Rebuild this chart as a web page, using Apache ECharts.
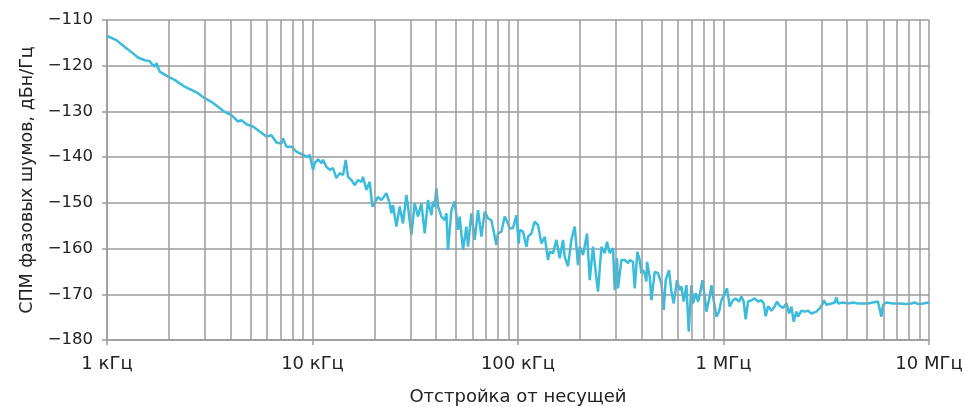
<!DOCTYPE html>
<html><head><meta charset="utf-8">
<script src="https://cdn.jsdelivr.net/npm/echarts@6/dist/echarts.min.js"></script>
<style>html,body{margin:0;padding:0;background:#fff}#c{width:964px;height:407px}</style>
</head><body><div id="c"></div>
<script>
// Offset frequency, kHz
const freqKHz = [
1.0,1.11,1.175,1.243,1.338,1.415,1.526,1.614,1.65,1.72,
1.74,1.78,1.805,1.981,2.135,2.301,2.388,2.575,2.772,2.988,
3.221,3.469,3.739,4.030,4.340,4.508,4.767,5.134,5.534,5.967,
6.310,6.674,7.060,7.186,7.464,7.894,8.350,8.990,9.509,9.691,
10.06,10.25,10.64,11.05,11.25,11.68,12.13,12.58,13.07,13.57,
14.08,14.51,14.89,15.46,16.05,16.65,17.30,17.61,18.29,18.98,
19.57,20.08,20.83,21.64,22.89,23.76,24.21,24.65,25.61,26.57,
27.57,28.64,29.16,30.29,31.43,32.61,33.88,35.16,36.48,37.89,
38.58,39.32,40.08,40.81,42.39,43.99,44.84,45.65,47.42,49.20,
51.05,52.03,54.00,56.09,57.11,59.33,61.57,63.89,66.36,68.87,
71.45,74.23,75.56,78.50,79.92,83.02,86.15,89.39,91.11,94.56,
98.22,100.8,101.9,105.8,109.9,111.9,116.2,120.6,125.1,130.0,
134.9,140.0,142.7,148.1,153.8,159.6,165.6,168.8,175.1,181.9,
188.8,195.9,199.6,207.2,216.7,223.4,231.7,238.8,245.1,254.6,
264.2,271.1,279.4,290.0,295.6,303.3,306.7,318.6,330.6,343.1,
349.7,362.8,369.8,381.1,391.1,398.6,405.8,413.6,421.5,424.4,
437.4,445.8,462.6,480.1,498.7,511.7,523.4,543.0,557.8,572.4,
593.9,612.2,624.0,640.3,660.1,677.3,698.1,710.7,732.5,751.6,
766.1,789.6,810.2,825.8,856.8,873.3,896.1,923.7,951.0,977.0,
1013,1040,1072,1112,1147,1190,1222,1254,1282,1316,
1367,1419,1472,1529,1569,1605,1647,1711,1776,1822,
1877,1948,2024,2084,2140,2196,2264,2305,2394,2485,
2578,2678,2832,2939,3050,3084,3168,3350,3477,3543,
3607,3814,4035,4267,4512,4772,5047,5339,5646,5866,
5972,6205,6680,7200,7762,8210,8518,8842,9350,10000
];
// Phase noise PSD, dBc/Hz
const psdDb = [
-113.5,-114.4,-115.3,-116.2,-117.3,-118.2,-118.8,-119.0,-119.6,-120.2,
-119.4,-120.6,-121.3,-122.4,-123.1,-124.1,-124.6,-125.3,-126.0,-127.1,
-127.9,-129.0,-130.1,-130.8,-132.2,-131.9,-132.8,-133.3,-134.4,-135.5,
-135.2,-136.8,-137.0,-135.9,-137.7,-137.7,-138.8,-139.5,-140.0,-139.5,
-142.8,-141.3,-140.5,-141.3,-140.6,-142.1,-142.8,-142.4,-144.6,-143.5,
-143.9,-140.6,-144.3,-145.0,-146.1,-145.0,-145.4,-144.3,-147.2,-145.4,
-150.8,-150.0,-148.7,-149.4,-147.9,-150.1,-152.3,-150.5,-155.2,-150.8,
-154.5,-148.3,-150.8,-157.0,-150.1,-153.0,-150.1,-156.7,-149.4,-152.7,
-149.7,-150.8,-146.8,-150.8,-153.0,-153.8,-152.3,-160.3,-151.6,-149.7,
-155.9,-153.0,-160.3,-155.2,-159.6,-152.3,-158.1,-151.6,-157.4,-151.9,
-153.4,-153.8,-153.4,-159.2,-156.7,-156.3,-153.0,-154.5,-155.6,-155.5,
-152.7,-158.9,-155.9,-156.3,-159.6,-157.4,-156.7,-154.1,-154.8,-158.9,
-157.4,-162.5,-160.7,-161.0,-158.1,-162.1,-158.1,-161.8,-163.9,-158.1,
-155.2,-163.6,-159.6,-161.4,-156.7,-166.9,-159.6,-165.1,-169.4,-159.6,
-161.0,-158.5,-161.0,-159.9,-169.1,-162.1,-168.7,-162.5,-162.5,-163.2,
-162.5,-162.9,-168.7,-160.7,-162.5,-165.4,-164.7,-165.5,-167.2,-162.9,
-166.1,-171.3,-165.1,-165.4,-167.6,-173.4,-166.9,-164.7,-169.4,-172.0,
-166.9,-169.1,-168.3,-171.6,-168.0,-178.2,-168.0,-172.0,-169.8,-171.6,
-170.2,-166.9,-170.5,-173.8,-170.5,-168.0,-171.3,-174.9,-173.8,-171.3,
-169.8,-168.7,-172.7,-171.3,-170.9,-171.6,-170.5,-171.6,-175.5,-171.6,
-171.3,-170.9,-171.6,-171.3,-172.0,-174.8,-172.6,-173.6,-172.6,-171.6,
-172.5,-173.0,-172.0,-174.2,-172.7,-176.0,-173.8,-174.9,-173.6,-173.8,
-173.6,-174.2,-173.8,-173.1,-172.0,-171.3,-172.3,-172.0,-171.8,-170.7,
-172.0,-171.8,-172.0,-171.8,-172.0,-172.0,-172.0,-171.8,-171.6,-174.9,
-172.3,-171.8,-172.0,-172.0,-172.1,-172.0,-171.8,-172.1,-172.0,-171.8
];
const xTickValues = [1, 10, 100, 1000, 10000];
const xTickLabels = ['1 кГц', '10 кГц', '100 кГц', '1 МГц', '10 МГц'];
const minorGridKHz = [2,3,4,5,6,7,8,9,20,30,40,50,60,70,80,90,200,300,400,500,600,700,800,900,2000,3000,4000,5000,6000,7000,8000,9000];
const yMin = -180, yMax = -110, yStep = 10;
const xTitle = 'Отстройка от несущей';
const yTitle = 'СПМ фазовых шумов, дБн/Гц';

const FONT = 'DejaVu Sans';
const TXT = '#232323';
const GRID = '#9b9b9b';
const chart = echarts.init(document.getElementById('c'), null, {renderer: 'canvas'});
const points = freqKHz.map((f, i) => [f, psdDb[i]]);
chart.setOption({
  animation: false,
  textStyle: {fontFamily: FONT},
  grid: {left: 107, right: 35, top: 20, bottom: 67, containLabel: false, outerBoundsMode: 'none'},
  xAxis: {
    type: 'log', logBase: 10, min: 1, max: 10000,
    name: xTitle, nameLocation: 'middle', nameGap: 48,
    nameTextStyle: {fontFamily: FONT, fontSize: 18, color: TXT},
    axisLine: {show: true, lineStyle: {color: GRID, width: 1.5}},
    axisTick: {show: true, length: 5, lineStyle: {color: GRID, width: 1.5}},
    splitLine: {show: true, lineStyle: {color: GRID, width: 1.5}},
    axisLabel: {
      fontFamily: FONT, fontSize: 18, color: TXT, margin: 15,
      formatter: v => { const k = xTickValues.findIndex(t => Math.abs(t - v) < 1e-6 * t); return k >= 0 ? xTickLabels[k] : ''; }
    }
  },
  yAxis: {
    type: 'value', min: yMin, max: yMax, interval: yStep,
    name: yTitle, nameLocation: 'middle', nameGap: 66, nameRotate: 90,
    nameTextStyle: {fontFamily: FONT, fontSize: 17.5, color: TXT},
    axisLine: {show: true, lineStyle: {color: GRID, width: 1.5}},
    axisTick: {show: true, length: 5, lineStyle: {color: GRID, width: 1.5}},
    splitLine: {show: true, lineStyle: {color: GRID, width: 1.5}},
    axisLabel: {fontFamily: FONT, fontSize: 16.5, color: TXT, margin: 14,
      formatter: v => (v < 0 ? '\u2212' + Math.abs(v) : String(v))}
  },
  series: [
    {
      type: 'line', data: [], z: 1, silent: true,
      markLine: {
        silent: true, symbol: ['none', 'none'], animation: false,
        label: {show: false},
        lineStyle: {color: GRID, width: 1.5, type: 'solid'},
        emphasis: {disabled: true},
        data: minorGridKHz.map(v => ({xAxis: v}))
      }
    },
    {
      type: 'line', data: points, z: 3, showSymbol: false, symbol: 'none',
      lineStyle: {color: '#3bbcdc', width: 2.5}, itemStyle: {color: '#3bbcdc'}
    }
  ]
});
</script></body></html>
